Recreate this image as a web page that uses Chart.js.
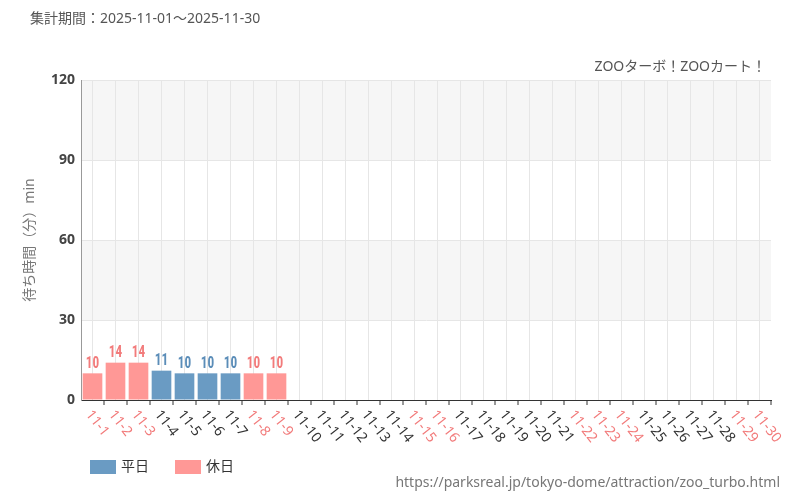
<!DOCTYPE html>
<html><head><meta charset="utf-8">
<script src="https://cdn.jsdelivr.net/npm/chart.js@4"></script>
<style>body{margin:0;background:#fff}</style></head>
<body><canvas id="c" width="800" height="500" style="width:800px;height:500px"></canvas>
<script>
const categories=[];for(let d=1;d<=30;d++)categories.push('11-'+d);
const values=[10,14,14,11,10,10,10,10,10,null,null,null,null,null,null,null,null,null,null,null,null,null,null,null,null,null,null,null,null,null];
const holidays=[1,2,3,8,9,15,16,22,23,24,29,30];
const yTicks=[0,30,60,90,120];
const BLUE='#6a9bc3',PINK='#ff9896',BLUE_T='#5b8db8',PINK_T='#f27b7b';
const isHol=i=>holidays.includes(i+1);
const FONT='"Noto Sans","Noto Sans CJK JP",sans-serif';
const plug={id:'p',
beforeDraw(c){const {ctx,chartArea:a}=c;const y=c.scales.y;ctx.save();ctx.fillStyle='#f6f6f6';
[[30,60],[90,120]].forEach(([l,h])=>ctx.fillRect(a.left,y.getPixelForValue(h),a.right-a.left,y.getPixelForValue(l)-y.getPixelForValue(h)));ctx.restore();},
afterDraw(c){const {ctx,chartArea:a}=c;const x=c.scales.x;const meta=c.getDatasetMeta(0);ctx.save();
ctx.font='14px '+FONT;ctx.fillStyle='#555';ctx.textBaseline='top';ctx.fillText('集計期間：2025-11-01～2025-11-30',30,12);
ctx.textAlign='right';ctx.fillText('ZOOターボ！ZOOカート！',766,60);
ctx.textAlign='left';ctx.textBaseline='middle';ctx.font='14px '+FONT;
categories.forEach((t,i)=>{const px=x.getPixelForValue(i);ctx.save();ctx.translate(px-4,412);ctx.rotate(52*Math.PI/180);ctx.fillStyle=isHol(i)?PINK_T:'#333';ctx.fillText(t,0,0);ctx.restore();
ctx.strokeStyle='#333';ctx.beginPath();const bx=px+(x.getPixelForValue(1)-x.getPixelForValue(0))/2;ctx.moveTo(bx,a.bottom);ctx.lineTo(bx,a.bottom+5);ctx.stroke();});
ctx.textAlign='center';ctx.textBaseline='bottom';ctx.font='bold 17px "Roboto Condensed","Liberation Sans Narrow",'+FONT;
meta.data.forEach((b,i)=>{if(values[i]==null)return;ctx.fillStyle=isHol(i)?PINK_T:BLUE_T;ctx.save();ctx.translate(b.x,b.y-1);ctx.scale(0.78,1);ctx.fillText(values[i],0,0);ctx.restore();});
ctx.textAlign='left';ctx.textBaseline='middle';ctx.font='14px '+FONT;
ctx.fillStyle=BLUE;ctx.fillRect(90,460,26,14);ctx.fillStyle='#333';ctx.fillText('平日',121,467);
ctx.fillStyle=PINK;ctx.fillRect(175,460,26,14);ctx.fillStyle='#333';ctx.fillText('休日',206,467);
ctx.textAlign='right';ctx.fillStyle='#777';ctx.fillText('https://parksreal.jp/tokyo-dome/attraction/zoo_turbo.html',780,483);
ctx.restore();}};
new Chart(document.getElementById('c'),{type:'bar',
data:{labels:categories,datasets:[{data:values,backgroundColor:categories.map((_,i)=>isHol(i)?PINK:BLUE),barPercentage:0.9,categoryPercentage:0.95}]},
options:{responsive:false,animation:false,devicePixelRatio:1,
layout:{padding:{left:0,right:29,top:80,bottom:100}},
plugins:{legend:{display:false},tooltip:{enabled:false}},
scales:{
x:{ticks:{display:false},grid:{color:'#e6e6e6',drawTicks:false,offset:false},border:{color:'#333'},afterFit(s){s.height=0;}},
y:{min:0,max:120,afterBuildTicks(s){s.ticks=yTicks.map(v=>({value:v}));},
ticks:{color:'#444',font:{size:14,weight:'bold',family:FONT},padding:6},
grid:{color:c=>c.tick.value===0?'#333':'#e6e6e6',drawTicks:false},border:{color:'#999'},
title:{display:true,text:'待ち時間（分）min',color:'#777',font:{size:14,family:FONT},padding:{top:22,bottom:0}},
afterFit(s){s.width=81;}}}},
plugins:[plug]});
</script></body></html>
